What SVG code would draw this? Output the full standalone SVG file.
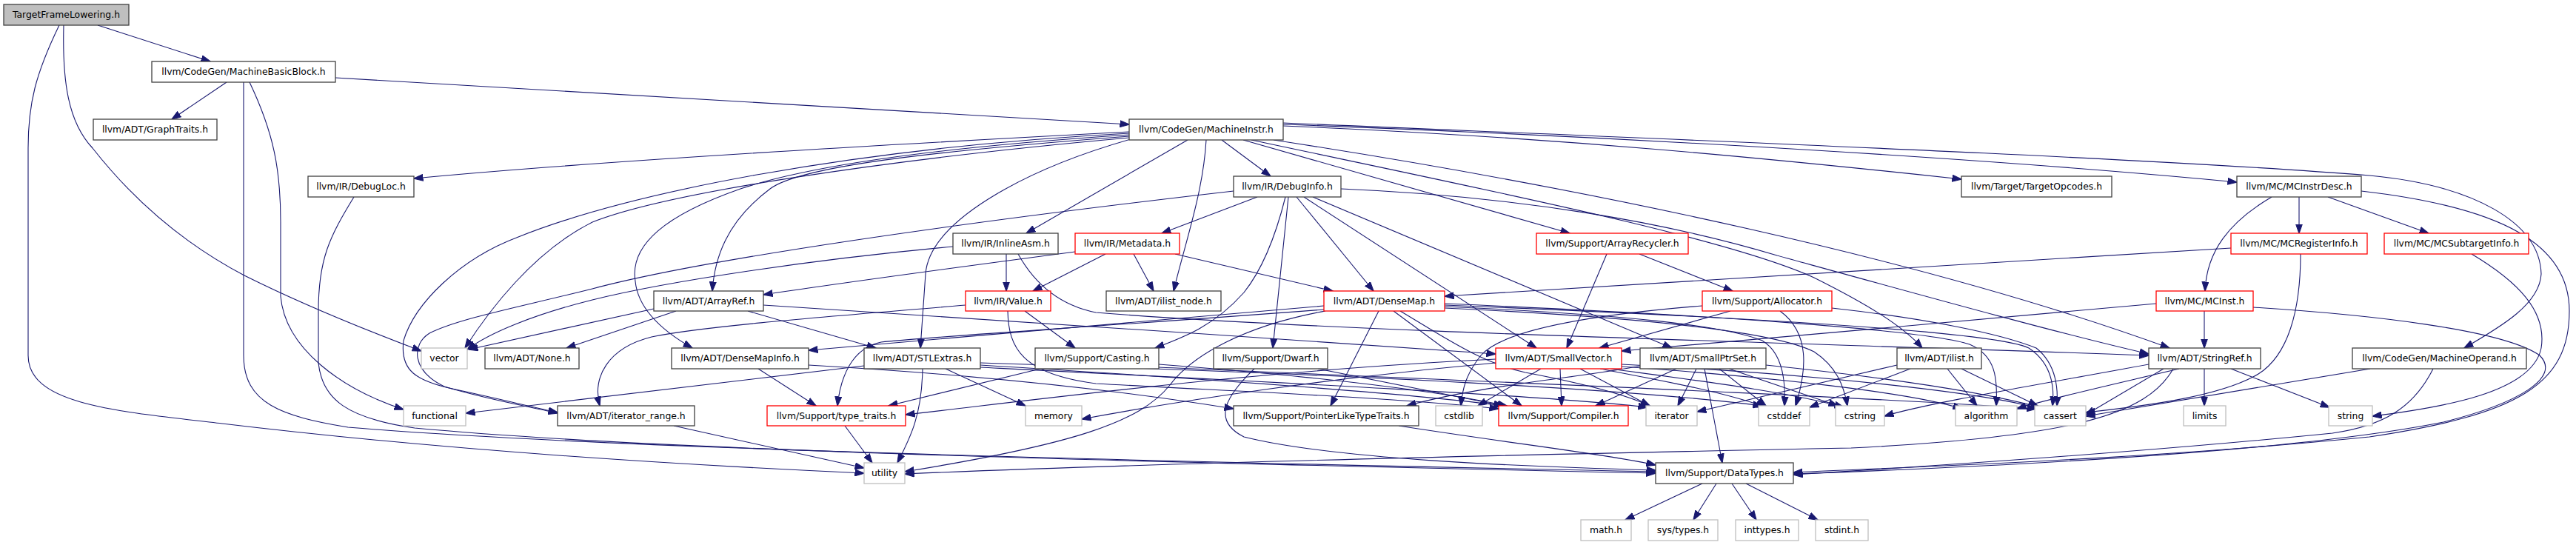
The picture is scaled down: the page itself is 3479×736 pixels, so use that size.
<svg xmlns="http://www.w3.org/2000/svg" width="3479" height="736" viewBox="0 0 3479 736">
<style>
.e{fill:none;stroke:#191970;stroke-width:1.1;marker-end:url(#ah)}
.n rect{fill:#fff;stroke:#404040;stroke-width:1.3}
.n.r rect{stroke:#ff0000}
.n.g rect{stroke:#bfbfbf}
.n.root rect{fill:#bfbfbf}
text{font-family:"DejaVu Sans","Liberation Sans",sans-serif;font-size:12.4px;text-anchor:middle;fill:#000}
</style>
<defs>
<marker id="ah" viewBox="0 0 13 10" refX="12.5" refY="5" markerWidth="13" markerHeight="10" markerUnits="userSpaceOnUse" orient="auto"><path d="M0,0.5 L13,5 L0,9.5z" fill="#191970" stroke="#191970" stroke-width="1"/></marker>
</defs>
<rect width="3479" height="736" fill="#fff"/>
<g id="edges">
<path class="e" d="M132,34 L284,83"/>
<path class="e" d="M86,34 C84,110 92,165 125,200 C180,270 250,330 330,372 C410,412 500,448 569,474"/>
<path class="e" d="M80,34 C48,100 38,140 38,200 L38,480 C38,545 150,555 300,572 C600,608 900,627 1167,639"/>
<path class="e" d="M306,111 L232,161"/>
<path class="e" d="M453,105 L1525,168"/>
<path class="e" d="M329,111 L329,480 C329,545 380,562 470,577 C800,605 1500,622 2236,637"/>
<path class="e" d="M337,111 C370,180 379,230 379,300 L379,400 C385,470 460,525 545,553"/>
<path class="e" d="M1525,178 C1200,195 800,218 559,241"/>
<path class="e" d="M1650,189 L1716,238"/>
<path class="e" d="M1604,189 L1386,315"/>
<path class="e" d="M1527,188 C1380,230 1255,300 1250,370 C1247,410 1245,440 1243,470"/>
<path class="e" d="M1629,189 C1625,260 1600,330 1585,393"/>
<path class="e" d="M1679,189 L2120,315"/>
<path class="e" d="M1525,184 C1250,205 1080,225 1040,255 C980,300 965,350 962,393"/>
<path class="e" d="M1525,182 C1250,200 1090,225 1000,255 C900,290 850,330 858,380 C862,420 900,450 935,470"/>
<path class="e" d="M1525,180 C1150,200 850,260 700,320 C620,350 560,410 545,460 C540,500 560,515 620,527 C680,540 720,550 753,557"/>
<path class="e" d="M1525,186 C1200,215 900,260 800,300 C720,340 660,420 628,470"/>
<path class="e" d="M1690,189 C2000,255 2330,320 2450,375 C2520,410 2570,440 2596,470"/>
<path class="e" d="M1720,189 C2150,255 2600,350 2930,470"/>
<path class="e" d="M1733,170 C2100,185 2400,215 2649,242"/>
<path class="e" d="M1733,168 C2200,185 2700,215 3021,246"/>
<path class="e" d="M1733,166 C2300,190 2900,213 3200,237 C3340,250 3430,300 3432,370 C3430,410 3380,440 3328,470"/>
<path class="e" d="M478,266 C445,320 430,350 430,420 L430,490 C435,540 470,565 560,578 C900,610 1600,625 2236,639"/>
<path class="e" d="M1698,266 L1569,315"/>
<path class="e" d="M1751,266 L1855,393"/>
<path class="e" d="M1761,266 L2075,470"/>
<path class="e" d="M1773,266 L2258,470"/>
<path class="e" d="M1736,266 C1720,330 1700,370 1680,395 C1640,440 1600,455 1560,470"/>
<path class="e" d="M1740,266 C1734,330 1726,400 1719,470"/>
<path class="e" d="M1811,255 C2050,265 2250,300 2400,345 C2600,400 2780,450 2902,478"/>
<path class="e" d="M1666,258 C1300,300 950,350 800,390 C700,415 620,430 580,450 C556,465 555,500 600,522 C660,540 720,550 753,558"/>
<path class="e" d="M1287,333 C1100,350 900,380 800,405 C720,425 660,450 631,472"/>
<path class="e" d="M1359,343 L1359,393"/>
<path class="e" d="M1375,343 C1390,370 1420,410 1480,422 C1800,448 2400,462 2902,480"/>
<path class="e" d="M1452,340 C1300,360 1150,380 1031,398"/>
<path class="e" d="M1493,343 L1395,393"/>
<path class="e" d="M1531,343 L1558,393"/>
<path class="e" d="M1587,343 L1800,393"/>
<path class="e" d="M2170,343 L2116,470"/>
<path class="e" d="M2214,343 L2340,393"/>
<path class="e" d="M3068,266 C3010,300 2980,340 2978,393"/>
<path class="e" d="M3105,266 L3105,315"/>
<path class="e" d="M3144,266 L3280,315"/>
<path class="e" d="M3189,258 C3380,280 3470,330 3470,420 C3470,520 3400,560 3200,590 C2900,620 2600,630 2422,638"/>
<path class="e" d="M3013,335 L1951,400"/>
<path class="e" d="M3107,343 C3107,420 3090,480 3050,505 C3000,535 2900,548 2817,557"/>
<path class="e" d="M3338,343 C3400,380 3440,420 3432,470 C3420,530 3300,550 3204,562"/>
<path class="e" d="M3043,415 C3200,425 3380,445 3430,480 C3460,510 3400,545 3300,570 C3100,610 2700,630 2422,640"/>
<path class="e" d="M2977,420 L2977,470"/>
<path class="e" d="M2912,410 C2700,430 2400,455 2190,474"/>
<path class="e" d="M883,417 L633,472"/>
<path class="e" d="M913,420 L765,470"/>
<path class="e" d="M1031,412 C1300,430 1700,455 2020,478"/>
<path class="e" d="M1010,420 L1183,470"/>
<path class="e" d="M1384,420 L1452,470"/>
<path class="e" d="M1304,412 C1150,425 950,440 880,455 C820,470 800,510 810,548"/>
<path class="e" d="M1361,420 C1362,470 1380,505 1480,518 C1700,530 1900,538 2024,552"/>
<path class="e" d="M1788,413 L1092,473"/>
<path class="e" d="M1788,418 C1500,440 1250,455 1190,462 C1150,470 1135,510 1131,548"/>
<path class="e" d="M1862,420 L1797,548"/>
<path class="e" d="M1882,420 L2055,548"/>
<path class="e" d="M1891,420 C1950,455 2000,490 2060,503 C2150,520 2200,535 2228,548"/>
<path class="e" d="M1790,420 C1680,440 1610,480 1580,520 C1540,570 1450,600 1222,637"/>
<path class="e" d="M1951,410 C2300,425 2600,445 2660,465 C2695,480 2698,510 2696,548"/>
<path class="e" d="M1951,412 C2400,430 2700,450 2740,470 C2770,490 2775,520 2772,548"/>
<path class="e" d="M1951,414 C2200,425 2330,440 2380,460 C2405,475 2412,510 2410,548"/>
<path class="e" d="M1951,416 C2250,430 2400,450 2450,475 C2480,495 2490,520 2495,548"/>
<path class="e" d="M2337,420 L2160,470"/>
<path class="e" d="M2299,413 C2150,425 2030,445 2000,480 C1980,505 1975,525 1973,548"/>
<path class="e" d="M2404,420 C2445,450 2440,500 2425,548"/>
<path class="e" d="M2474,416 C2600,430 2700,450 2750,470 C2775,490 2780,520 2778,548"/>
<path class="e" d="M1024,498 L1102,548"/>
<path class="e" d="M1092,493 C1300,505 1500,525 1666,552"/>
<path class="e" d="M1246,498 C1245,560 1230,590 1212,625"/>
<path class="e" d="M1277,498 L1385,548"/>
<path class="e" d="M1167,494 L629,558"/>
<path class="e" d="M1324,493 C1600,510 1900,530 2030,548"/>
<path class="e" d="M1324,496 C1700,515 2100,535 2225,550"/>
<path class="e" d="M1324,490 C1800,505 2200,525 2380,548"/>
<path class="e" d="M1405,498 L1200,548"/>
<path class="e" d="M1565,492 C1800,510 1950,530 2035,548"/>
<path class="e" d="M1565,496 C2000,515 2500,535 2750,552"/>
<path class="e" d="M1694,498 C1650,540 1640,570 1680,590 C1800,620 2050,630 2236,635"/>
<path class="e" d="M1780,498 L2030,548"/>
<path class="e" d="M2081,498 L1996,548"/>
<path class="e" d="M2107,498 L2109,548"/>
<path class="e" d="M2134,498 L2228,548"/>
<path class="e" d="M2161,498 C2250,515 2330,530 2385,550"/>
<path class="e" d="M2175,498 C2300,515 2420,530 2490,550"/>
<path class="e" d="M2190,495 C2400,510 2580,530 2650,552"/>
<path class="e" d="M2190,492 C2450,505 2680,530 2755,552"/>
<path class="e" d="M2020,490 C1800,510 1600,540 1461,566"/>
<path class="e" d="M2020,485 C1700,500 1400,540 1223,560"/>
<path class="e" d="M2264,498 L2155,548"/>
<path class="e" d="M2291,498 L2266,548"/>
<path class="e" d="M2302,498 L2326,625"/>
<path class="e" d="M2322,498 L2385,548"/>
<path class="e" d="M2335,498 L2482,548"/>
<path class="e" d="M2385,493 C2550,510 2680,530 2755,550"/>
<path class="e" d="M2215,494 C2150,508 2000,520 1900,548"/>
<path class="e" d="M2562,493 L2292,556"/>
<path class="e" d="M2580,498 L2444,550"/>
<path class="e" d="M2630,498 L2670,548"/>
<path class="e" d="M2649,498 L2752,548"/>
<path class="e" d="M2977,498 L2977,548"/>
<path class="e" d="M3013,498 L3146,550"/>
<path class="e" d="M2922,498 L2817,560"/>
<path class="e" d="M2943,498 C2850,520 2760,540 2724,552"/>
<path class="e" d="M2902,492 C2750,520 2600,545 2545,562"/>
<path class="e" d="M2935,498 C2900,560 2800,590 2500,605 C2000,615 1500,628 1222,640"/>
<path class="e" d="M3201,498 L2817,562"/>
<path class="e" d="M3286,498 C3260,550 3220,575 3150,585 C2900,610 2600,630 2422,641"/>
<path class="e" d="M1141,575 L1178,625"/>
<path class="e" d="M910,575 L1167,632"/>
<path class="e" d="M1889,575 C2050,600 2180,615 2236,628"/>
<path class="e" d="M2299,653 L2195,702"/>
<path class="e" d="M2318,653 L2287,702"/>
<path class="e" d="M2339,653 L2372,702"/>
<path class="e" d="M2358,653 L2455,702"/>
</g>
<g id="n_TargetFrameLowering" class="n root"><rect x="5" y="6" width="169" height="28"/><text x="89.5" y="24.3">TargetFrameLowering.h</text></g>
<g id="n_MachineBasicBlock" class="n"><rect x="205" y="83" width="248" height="28"/><text x="329" y="101.3">llvm/CodeGen/MachineBasicBlock.h</text></g>
<g id="n_GraphTraits" class="n"><rect x="126" y="161" width="167" height="28"/><text x="209.5" y="179.3">llvm/ADT/GraphTraits.h</text></g>
<g id="n_MachineInstr" class="n"><rect x="1525" y="161" width="208" height="28"/><text x="1629" y="179.3">llvm/CodeGen/MachineInstr.h</text></g>
<g id="n_DebugLoc" class="n"><rect x="416" y="238" width="143" height="28"/><text x="487.5" y="256.3">llvm/IR/DebugLoc.h</text></g>
<g id="n_DebugInfo" class="n"><rect x="1666" y="238" width="145" height="28"/><text x="1738.5" y="256.3">llvm/IR/DebugInfo.h</text></g>
<g id="n_TargetOpcodes" class="n"><rect x="2649" y="238" width="203" height="28"/><text x="2750.5" y="256.3">llvm/Target/TargetOpcodes.h</text></g>
<g id="n_MCInstrDesc" class="n"><rect x="3021" y="238" width="168" height="28"/><text x="3105" y="256.3">llvm/MC/MCInstrDesc.h</text></g>
<g id="n_InlineAsm" class="n"><rect x="1287" y="315" width="142" height="28"/><text x="1358" y="333.3">llvm/IR/InlineAsm.h</text></g>
<g id="n_Metadata" class="n r"><rect x="1452" y="315" width="141" height="28"/><text x="1522.5" y="333.3">llvm/IR/Metadata.h</text></g>
<g id="n_ArrayRecycler" class="n r"><rect x="2075" y="315" width="205" height="28"/><text x="2177.5" y="333.3">llvm/Support/ArrayRecycler.h</text></g>
<g id="n_MCRegisterInfo" class="n r"><rect x="3013" y="315" width="184" height="28"/><text x="3105" y="333.3">llvm/MC/MCRegisterInfo.h</text></g>
<g id="n_MCSubtargetInfo" class="n r"><rect x="3220" y="315" width="195" height="28"/><text x="3317.5" y="333.3">llvm/MC/MCSubtargetInfo.h</text></g>
<g id="n_ArrayRef" class="n"><rect x="883" y="393" width="148" height="27"/><text x="957" y="411">llvm/ADT/ArrayRef.h</text></g>
<g id="n_Value" class="n r"><rect x="1304" y="393" width="115" height="27"/><text x="1361.5" y="411">llvm/IR/Value.h</text></g>
<g id="n_ilist_node" class="n"><rect x="1494" y="393" width="155" height="27"/><text x="1571.5" y="411">llvm/ADT/ilist_node.h</text></g>
<g id="n_DenseMap" class="n r"><rect x="1788" y="393" width="163" height="27"/><text x="1869.5" y="411">llvm/ADT/DenseMap.h</text></g>
<g id="n_Allocator" class="n r"><rect x="2299" y="393" width="175" height="27"/><text x="2386.5" y="411">llvm/Support/Allocator.h</text></g>
<g id="n_MCInst" class="n r"><rect x="2912" y="393" width="131" height="27"/><text x="2977.5" y="411">llvm/MC/MCInst.h</text></g>
<g id="n_vector" class="n g"><rect x="569" y="470" width="62" height="28"/><text x="600" y="488.3">vector</text></g>
<g id="n_None" class="n"><rect x="655" y="470" width="127" height="28"/><text x="718.5" y="488.3">llvm/ADT/None.h</text></g>
<g id="n_DenseMapInfo" class="n"><rect x="907" y="470" width="185" height="28"/><text x="999.5" y="488.3">llvm/ADT/DenseMapInfo.h</text></g>
<g id="n_STLExtras" class="n"><rect x="1167" y="470" width="157" height="28"/><text x="1245.5" y="488.3">llvm/ADT/STLExtras.h</text></g>
<g id="n_Casting" class="n"><rect x="1398" y="470" width="167" height="28"/><text x="1481.5" y="488.3">llvm/Support/Casting.h</text></g>
<g id="n_Dwarf" class="n"><rect x="1639" y="470" width="154" height="28"/><text x="1716" y="488.3">llvm/Support/Dwarf.h</text></g>
<g id="n_SmallVector" class="n r"><rect x="2020" y="470" width="170" height="28"/><text x="2105" y="488.3">llvm/ADT/SmallVector.h</text></g>
<g id="n_SmallPtrSet" class="n"><rect x="2215" y="470" width="170" height="28"/><text x="2300" y="488.3">llvm/ADT/SmallPtrSet.h</text></g>
<g id="n_ilist" class="n"><rect x="2562" y="470" width="114" height="28"/><text x="2619" y="488.3">llvm/ADT/ilist.h</text></g>
<g id="n_StringRef" class="n"><rect x="2902" y="470" width="151" height="28"/><text x="2977.5" y="488.3">llvm/ADT/StringRef.h</text></g>
<g id="n_MachineOperand" class="n"><rect x="3177" y="470" width="235" height="28"/><text x="3294.5" y="488.3">llvm/CodeGen/MachineOperand.h</text></g>
<g id="n_functional" class="n g"><rect x="545" y="548" width="84" height="27"/><text x="587" y="566">functional</text></g>
<g id="n_iterator_range" class="n"><rect x="753" y="548" width="185" height="27"/><text x="845.5" y="566">llvm/ADT/iterator_range.h</text></g>
<g id="n_type_traits" class="n r"><rect x="1036" y="548" width="187" height="27"/><text x="1129.5" y="566">llvm/Support/type_traits.h</text></g>
<g id="n_memory" class="n g"><rect x="1385" y="548" width="76" height="27"/><text x="1423" y="566">memory</text></g>
<g id="n_PointerLikeTypeTraits" class="n"><rect x="1666" y="548" width="250" height="27"/><text x="1791" y="566">llvm/Support/PointerLikeTypeTraits.h</text></g>
<g id="n_cstdlib" class="n g"><rect x="1939" y="548" width="63" height="27"/><text x="1970.5" y="566">cstdlib</text></g>
<g id="n_Compiler" class="n r"><rect x="2024" y="548" width="175" height="27"/><text x="2111.5" y="566">llvm/Support/Compiler.h</text></g>
<g id="n_iterator" class="n g"><rect x="2223" y="548" width="69" height="27"/><text x="2257.5" y="566">iterator</text></g>
<g id="n_cstddef" class="n g"><rect x="2375" y="548" width="69" height="27"/><text x="2409.5" y="566">cstddef</text></g>
<g id="n_cstring" class="n g"><rect x="2479" y="548" width="66" height="27"/><text x="2512" y="566">cstring</text></g>
<g id="n_algorithm" class="n g"><rect x="2641" y="548" width="83" height="27"/><text x="2682.5" y="566">algorithm</text></g>
<g id="n_cassert" class="n g"><rect x="2748" y="548" width="69" height="27"/><text x="2782.5" y="566">cassert</text></g>
<g id="n_limits" class="n g"><rect x="2949" y="548" width="57" height="27"/><text x="2977.5" y="566">limits</text></g>
<g id="n_string" class="n g"><rect x="3145" y="548" width="59" height="27"/><text x="3174.5" y="566">string</text></g>
<g id="n_utility" class="n g"><rect x="1167" y="625" width="55" height="28"/><text x="1194.5" y="643.3">utility</text></g>
<g id="n_DataTypes" class="n"><rect x="2236" y="625" width="186" height="28"/><text x="2329" y="643.3">llvm/Support/DataTypes.h</text></g>
<g id="n_math" class="n g"><rect x="2135" y="702" width="68" height="28"/><text x="2169" y="720.3">math.h</text></g>
<g id="n_sys_types" class="n g"><rect x="2226" y="702" width="94" height="28"/><text x="2273" y="720.3">sys/types.h</text></g>
<g id="n_inttypes" class="n g"><rect x="2344" y="702" width="85" height="28"/><text x="2386.5" y="720.3">inttypes.h</text></g>
<g id="n_stdint" class="n g"><rect x="2452" y="702" width="71" height="28"/><text x="2487.5" y="720.3">stdint.h</text></g>
</svg>
